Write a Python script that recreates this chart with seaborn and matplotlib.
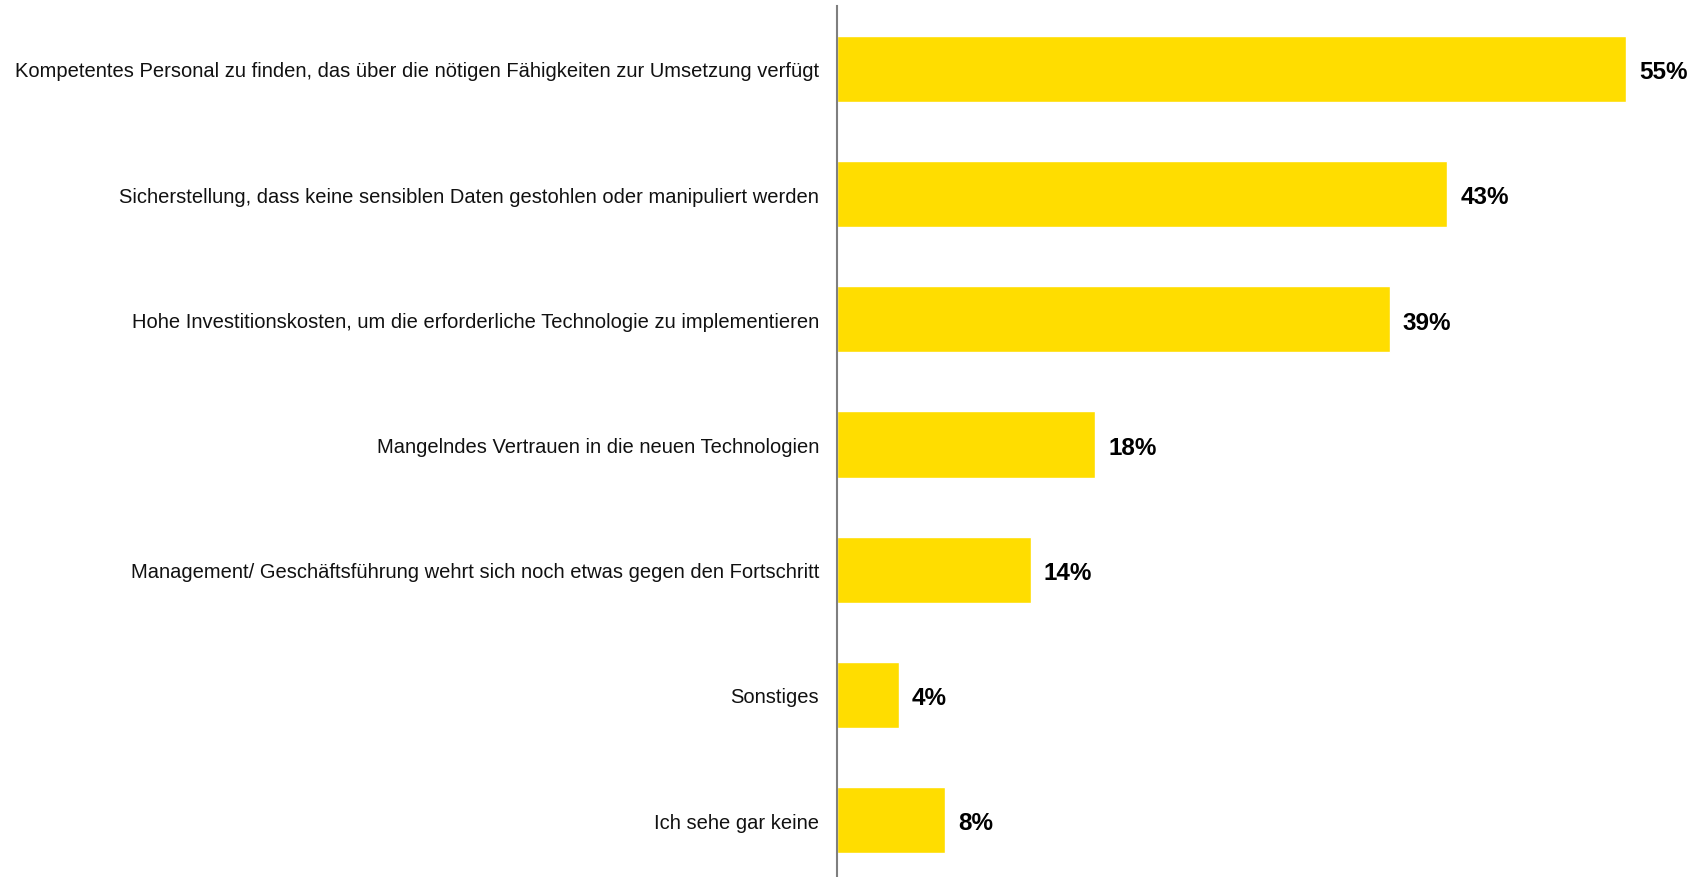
import matplotlib
matplotlib.use("Agg")
import matplotlib.pyplot as plt
import seaborn as sns
import pandas as pd

categories = [
    "Kompetentes Personal zu finden, das über die nötigen Fähigkeiten zur Umsetzung verfügt",
    "Sicherstellung, dass keine sensiblen Daten gestohlen oder manipuliert werden",
    "Hohe Investitionskosten, um die erforderliche Technologie zu implementieren",
    "Mangelndes Vertrauen in die neuen Technologien",
    "Management/ Geschäftsführung wehrt sich noch etwas gegen den Fortschritt",
    "Sonstiges",
    "Ich sehe gar keine",
]
values = [55, 42.5, 38.5, 18, 13.5, 4.3, 7.5]
value_labels = ["55%", "43%", "39%", "18%", "14%", "4%", "8%"]

sns.set_theme(style="white")
plt.rcParams['font.family'] = ['Liberation Sans', 'DejaVu Sans']

df = pd.DataFrame({"cat": categories, "val": values})

fig = plt.figure(figsize=(17.01, 8.78), dpi=100)
ax = fig.add_axes([837 / 1701, 0.0, 1 - 837 / 1701, 1 - 7 / 878])

sns.barplot(data=df, x="val", y="cat", orient="h", color="#FFDD00",
            saturation=1, width=0.53, ax=ax)

ax.set_xlim(0, 60.2)
ax.set_ylim(6.455, -0.503)

for i, (v, lab) in enumerate(zip(values, value_labels)):
    ax.annotate(lab, xy=(v, i), xytext=(9.5, -2), textcoords="offset points",
                ha="left", va="center", fontsize=17.5, fontweight="bold",
                color="black")

ax.set_xlabel("")
ax.set_ylabel("")
ax.set_xticks([])
ax.tick_params(axis="y", length=0, pad=13, labelsize=14.5, labelcolor="#111111")
for s in ["top", "right", "bottom"]:
    ax.spines[s].set_visible(False)
ax.spines["left"].set_color("#7f7f7f")
ax.spines["left"].set_linewidth(1.5)

fig.savefig("out.png", dpi=100)
